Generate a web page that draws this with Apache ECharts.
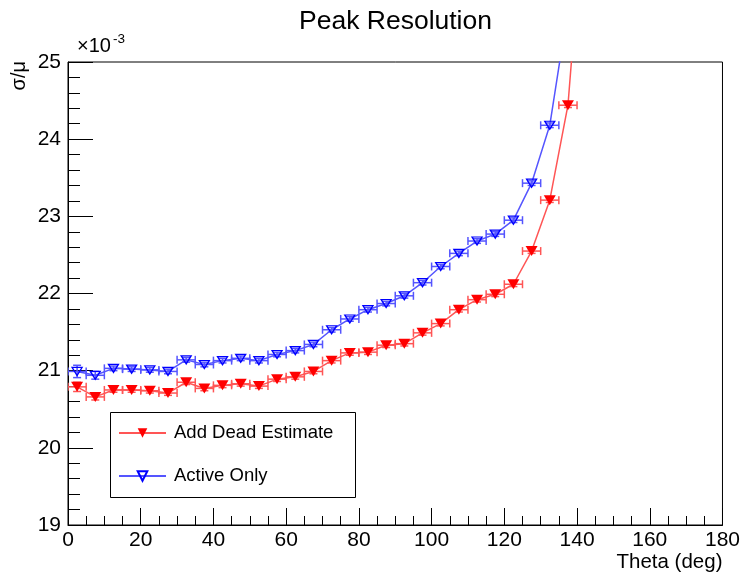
<!DOCTYPE html>
<html>
<head>
<meta charset="utf-8">
<script src="https://cdn.jsdelivr.net/npm/echarts@6/dist/echarts.min.js"></script>
<style>
html,body{margin:0;padding:0;background:#fff;}
#chart{width:743px;height:574px;}
</style>
</head>
<body>
<div id="chart"></div>
<script>
// ---- data ----
const thetaDead = [2.5, 7.5, 12.5, 17.5, 22.5, 27.5, 32.5, 37.5, 42.5, 47.5, 52.5, 57.5, 62.5, 67.5, 72.5, 77.5, 82.5, 87.5, 92.5, 97.5, 102.5, 107.5, 112.5, 117.5, 122.5, 127.5, 132.5, 137.5, 142.5];
const deadValues = [20.79, 20.66, 20.75, 20.75, 20.74, 20.71, 20.85, 20.77, 20.81, 20.83, 20.80, 20.89, 20.92, 20.99, 21.13, 21.23, 21.24, 21.33, 21.35, 21.49, 21.61, 21.79, 21.92, 21.99, 22.12, 22.55, 23.21, 24.44, 27.4];
const deadErr = [0.06, 0.04, 0.03, 0.03, 0.03, 0.03, 0.03, 0.03, 0.03, 0.03, 0.03, 0.03, 0.03, 0.03, 0.03, 0.03, 0.03, 0.03, 0.03, 0.03, 0.03, 0.03, 0.03, 0.03, 0.03, 0.03, 0.03, 0.03, 0.03];
const thetaActive = [2.5, 7.5, 12.5, 17.5, 22.5, 27.5, 32.5, 37.5, 42.5, 47.5, 52.5, 57.5, 62.5, 67.5, 72.5, 77.5, 82.5, 87.5, 92.5, 97.5, 102.5, 107.5, 112.5, 117.5, 122.5, 127.5, 132.5, 137.5];
const activeValues = [20.99, 20.94, 21.03, 21.02, 21.01, 20.99, 21.14, 21.08, 21.13, 21.16, 21.13, 21.21, 21.26, 21.34, 21.53, 21.67, 21.79, 21.87, 21.97, 22.14, 22.35, 22.52, 22.68, 22.77, 22.95, 23.43, 24.18, 25.69];
const activeErr = [0.08, 0.05, 0.03, 0.03, 0.03, 0.03, 0.03, 0.03, 0.03, 0.03, 0.03, 0.03, 0.03, 0.03, 0.03, 0.03, 0.03, 0.03, 0.03, 0.03, 0.03, 0.03, 0.03, 0.03, 0.03, 0.03, 0.03, 0.03];
const binHalfWidth = 2.5;
const seriesNames = ['Add Dead Estimate', 'Active Only'];
const xTicks = [0, 20, 40, 60, 80, 100, 120, 140, 160, 180];
const yTicks = [19, 20, 21, 22, 23, 24, 25];

const FONT = "'Liberation Sans', Arial, Helvetica, sans-serif";
const redMark = '#ff0000', redLine = '#ff5555';
const blueMark = '#0000ff', blueLine = '#5555ff';

function pairs(xs, ys){ return xs.map((x,i)=>[x, ys[i]]); }
function triples(xs, ys, es){ return xs.map((x,i)=>[x, ys[i], es[i]]); }

function errRenderer(color){
  return function(params, api){
    const x = api.value(0), y = api.value(1), e = api.value(2);
    const pL = api.coord([x - binHalfWidth, y]);
    const pR = api.coord([x + binHalfWidth, y]);
    const pT = api.coord([x, y + e]);
    const pB = api.coord([x, y - e]);
    const cap = 4;
    const st = {stroke: color, lineWidth: 1.5};
    const ln = (x1,y1,x2,y2)=>({type:'line', shape:{x1,y1,x2,y2}, style: st});
    return {type:'group', children:[
      ln(pL[0], pL[1], pR[0], pR[1]),
      ln(pL[0], pL[1]-cap, pL[0], pL[1]+cap),
      ln(pR[0], pR[1]-cap, pR[0], pR[1]+cap),
      ln(pT[0], pT[1], pB[0], pB[1]),
      ln(pT[0]-cap, pT[1], pT[0]+cap, pT[1]),
      ln(pB[0]-cap, pB[1], pB[0]+cap, pB[1])
    ]};
  };
}

const chart = echarts.init(document.getElementById('chart'), null, {renderer:'canvas'});
chart.setOption({
  animation: false,
  backgroundColor: '#fff',
  textStyle: {fontFamily: FONT},
  title: {
    text: 'Peak Resolution', left: 299, top: 8, padding: 0,
    textStyle: {fontFamily: FONT, fontSize: 26.5, fontWeight: 'normal', color: '#000'}
  },
  grid: {left: 68, right: 16, top: 62, bottom: 49, show: true, borderColor: '#000', borderWidth: 1, backgroundColor: 'transparent', containLabel: false},
  xAxis: {
    type: 'value', min: xTicks[0], max: xTicks[xTicks.length-1], interval: xTicks[1]-xTicks[0],
    name: 'Theta (deg)', nameLocation: 'end', nameGap: 0,
    nameTextStyle: {fontFamily: FONT, fontSize: 20.5, color: '#000', align: 'right', verticalAlign: 'top', padding: [27,0,0,0]},
    axisLine: {show: true, lineStyle: {color: '#000', width: 1}},
    axisTick: {show: true, inside: true, length: 17, lineStyle: {color: '#000', width: 1}},
    minorTick: {show: true, splitNumber: 4, length: 9, lineStyle: {color: '#000', width: 1}},
    splitLine: {show: false},
    axisLabel: {fontFamily: FONT, fontSize: 21, color: '#000', margin: 5}
  },
  yAxis: {
    type: 'value', min: yTicks[0], max: yTicks[yTicks.length-1], interval: yTicks[1]-yTicks[0],
    axisLine: {show: true, lineStyle: {color: '#000', width: 1}},
    axisTick: {show: true, inside: true, length: 25, lineStyle: {color: '#000', width: 1}},
    minorTick: {show: true, splitNumber: 5, length: 12, lineStyle: {color: '#000', width: 1}},
    splitLine: {show: false},
    axisLabel: {fontFamily: FONT, fontSize: 21, color: '#000', margin: 7}
  },
  legend: {
    data: seriesNames, orient: 'vertical', left: 118, top: 423, padding: 0,
    itemWidth: 47, itemHeight: 12, itemGap: 23, z: 10,
    textStyle: {fontFamily: FONT, fontSize: 18.5, color: '#000', lineHeight: 20, padding: [0,0,0,3]}
  },
  graphic: [
    {type: 'rect', z: 5, shape: {x: 110.5, y: 412.5, width: 245, height: 85}, style: {fill: '#fff', stroke: '#000', lineWidth: 1}},
    {type: 'text', z: 5, x: 77, y: 46, style: {
      text: '×10{sup|-3}', fontFamily: FONT, fontSize: 20, fill: '#000', verticalAlign: 'middle',
      rich: {sup: {fontFamily: FONT, fontSize: 13.5, fill: '#000', verticalAlign: 'bottom', padding: [0,0,14,2]}}
    }},
    {type: 'text', z: 5, x: 19, y: 61, rotation: Math.PI/2, style: {
      text: 'σ/μ', fontFamily: FONT, fontSize: 20, fill: '#000', align: 'right', verticalAlign: 'middle'
    }}
  ],
  series: [
    {type: 'custom', name: 'deadErr', clip: true, z: 2, renderItem: errRenderer(redLine),
     encode: {x: 0, y: 1}, data: triples(thetaDead, deadValues, deadErr), silent: true},
    {type: 'custom', name: 'activeErr', clip: true, z: 2, renderItem: errRenderer(blueLine),
     encode: {x: 0, y: 1}, data: triples(thetaActive, activeValues, activeErr), silent: true},
    {type: 'line', name: seriesNames[0], data: pairs(thetaDead, deadValues), clip: true, z: 3,
     symbol: 'triangle', symbolRotate: 180, symbolSize: [12, 10], showSymbol: true,
     lineStyle: {color: redLine, width: 1.5}, itemStyle: {color: redMark, borderColor: redMark, borderWidth: 0}},
    {type: 'line', name: seriesNames[1], data: pairs(thetaActive, activeValues), clip: true, z: 3,
     symbol: 'triangle', symbolRotate: 180, symbolSize: [10, 8], showSymbol: true,
     lineStyle: {color: blueLine, width: 1.5}, itemStyle: {color: 'rgba(255,255,255,0)', borderColor: blueMark, borderWidth: 1.3}}
  ]
});
</script>
</body>
</html>
